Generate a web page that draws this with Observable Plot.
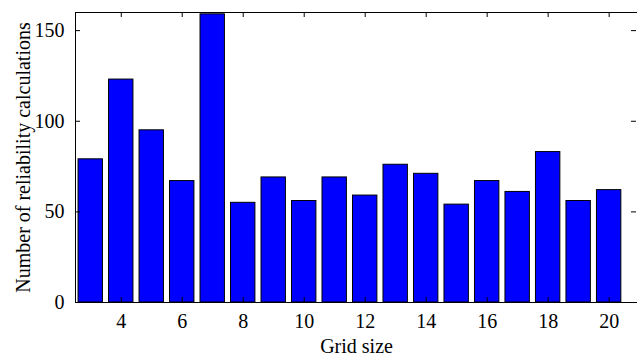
<!DOCTYPE html>
<html>
<head>
<meta charset="utf-8">
<script src="https://cdn.jsdelivr.net/npm/d3@7"></script>
<script src="https://cdn.jsdelivr.net/npm/@observablehq/plot@0.6"></script>
<style>
  html, body { margin: 0; padding: 0; background: #fff; }
  #chart svg, #chart svg text { font-family: "Liberation Serif", "Times New Roman", serif !important; }
</style>
</head>
<body>
<div id="chart"></div>
<script>
const gridSizes = [3, 4, 5, 6, 7, 8, 9, 10, 11, 12, 13, 14, 15, 16, 17, 18, 19, 20];
const calcCounts = [79, 123, 95, 67, 159, 55, 69, 56, 69, 59, 76, 71, 54, 67, 61, 83, 56, 62];
const xTicks = [4, 6, 8, 10, 12, 14, 16, 18, 20];
const yTicks = [0, 50, 100, 150];

const data = gridSizes.map((g, i) => ({g, v: calcCounts[i]}));

const W = 637, H = 356;
const mL = 75, mR = 0, mT = 12, mB = 54;
const plotW = W - mL - mR, plotH = H - mT - mB;
const tick = 5;
const serif = "Liberation Serif";

const chart = Plot.plot({
  width: W,
  height: H,
  marginLeft: mL,
  marginRight: mR,
  marginTop: mT,
  marginBottom: mB,
  style: {fontFamily: serif, fontSize: "20px", color: "black", background: "white"},
  x: {type: "linear", domain: [2.5, 20.93]},
  y: {domain: [0, 160]},
  marks: [
    Plot.rectY(data, {x1: d => d.g - 0.4, x2: d => d.g + 0.4, y1: 0, y2: "v", fill: "#0000ff", stroke: "black", strokeWidth: 1}),
    Plot.tickX(xTicks, {x: d => d, insetTop: plotH - tick, stroke: "black"}),
    Plot.tickX(xTicks, {x: d => d, insetBottom: plotH - tick, stroke: "black"}),
    Plot.tickY(yTicks, {y: d => d, insetRight: plotW - tick, stroke: "black"}),
    Plot.tickY(yTicks, {y: d => d, insetLeft: plotW - tick - 1, insetRight: 1, stroke: "black"}),
    Plot.axisX(xTicks, {tickSize: 0, tickPadding: 11, label: "Grid size", labelAnchor: "center", labelOffset: 50, labelArrow: false, fontSize: 20, fontFamily: serif}),
    Plot.axisY(yTicks, {tickSize: 0, tickPadding: 11, label: "Number of reliability calculations", labelAnchor: "center", labelOffset: 60, labelArrow: false, fontSize: 20, fontFamily: serif}),
    Plot.frame({anchor: "top", stroke: "black", strokeWidth: 1}),
    Plot.frame({anchor: "left", stroke: "black", strokeWidth: 1}),
    Plot.frame({anchor: "bottom", stroke: "black", strokeWidth: 1})
  ]
});
document.getElementById("chart").appendChild(chart);
</script>
</body>
</html>
